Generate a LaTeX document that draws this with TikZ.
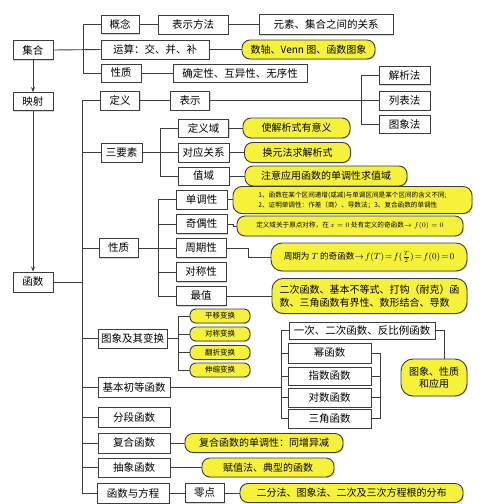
\documentclass[tikz,border=0pt]{standalone}
\usepackage{fontspec}
\setmainfont{Noto Sans CJK SC}
\usetikzlibrary{arrows.meta,shadows}
\definecolor{yel}{RGB}{246,242,58}
\definecolor{edge}{RGB}{60,60,60}
\newcommand{\fsz}[1]{\fontsize{#1}{#1}\selectfont}
\begin{document}
\begin{tikzpicture}[x=1pt,y=-1pt,
  box/.style={draw=edge, line width=0.9pt, fill=white, inner sep=0pt,
    font=\fsz{10.5}, drop shadow={shadow xshift=1pt, shadow yshift=-1pt, fill=black!25, opacity=0.6}},
  ybox/.style={draw=edge, line width=0.9pt, fill=yel, rounded corners=8pt, inner sep=0pt,
    font=\fsz{10}, drop shadow={shadow xshift=1pt, shadow yshift=-1pt, fill=black!25, opacity=0.6}},
  wh/.style 2 args={minimum width=#1, minimum height=#2},
  ln/.style={draw=edge, line width=0.9pt},
  arr/.style={ln, -{Stealth[length=5pt,width=4pt]}}
]
\useasboundingbox (0,0) rectangle (500,504);
\fill[white] (0,0) rectangle (500,504);

% left column
\node[box, wh={40}{19}] (set) at (33,50) {集合};
\node[box, wh={40}{18}] (ys) at (33,101.5) {映射};
\node[box, wh={40}{20}] (fn) at (33,282) {函数};

% set branch
\node[box, wh={38}{18}] (gn) at (120,24.5) {概念};
\node[box, wh={70}{19}] (bsff) at (193,24.5) {表示方法};
\node[box, wh={134}{20}] (ysgx) at (326,24.5) {元素、集合之间的关系};
\node[box, wh={108}{19}] (ysu) at (155,49.5) {运算：交、并、补};
\node[ybox, wh={133}{19}] (ysy) at (308.5,49.5) {数轴、Venn 图、函数图象};
\node[box, wh={40}{18}] (xz1) at (121,73) {性质};
\node[box, wh={134}{18}] (qd) at (240,73) {确定性、互异性、无序性};

% function branch
\node[box, wh={39}{19}] (dy) at (120,100.5) {定义};
\node[box, wh={39}{19}] (bs) at (190,100.5) {表示};
\node[box, wh={51}{18}] (jx) at (404.5,75.5) {解析法};
\node[box, wh={51}{19}] (lb) at (404.5,100.5) {列表法};
\node[box, wh={51}{18}] (tx) at (404.5,124) {图象法};

\node[box, wh={41}{19}] (syz) at (121.5,152.5) {三要素};
\node[box, wh={50}{18}] (dyy) at (203.5,128) {定义域};
\node[box, wh={51}{19}] (dygx) at (203.5,152.5) {对应关系};
\node[box, wh={51}{18}] (zy) at (203.5,176) {值域};
\node[ybox, wh={107}{20}] (y1) at (296.5,128) {使解析式有意义};
\node[ybox, wh={106}{20}] (y2) at (297.5,152.5) {换元法求解析式};
\node[ybox, wh={162}{20}] (y3) at (326,176) {注意应用函数的单调性求值域};

\node[box, wh={39}{19}] (xz2) at (118.5,248) {性质};
\node[box, wh={51}{19}] (ddx) at (201.5,199.5) {单调性};
\node[box, wh={51}{19}] (jox) at (201.5,224) {奇偶性};
\node[box, wh={50}{19}] (zqx) at (201,248) {周期性};
\node[box, wh={50}{19}] (dcx) at (201,272) {对称性};
\node[box, wh={50}{19}] (zz) at (201,296) {最值};
\node[ybox, wh={239}{27}, rounded corners=9pt, align=left, font=\fsz{6.6}] (y4) at (352.5,200)
  {1、函数在某个区间递增(或减)与单调区间是某个区间的含义不同;\\[2.5pt]2、证明单调性：作差（商）、导数法；3、复合函数的单调性};
\node[ybox, wh={226}{20}, font=\fsz{6.6}] (y5) at (350,226)
  {定义域关于原点对称，在 $x=0$ 处有定义的奇函数$\to f(0)=0$};
\node[ybox, wh={196}{28}, rounded corners=11pt, font=\fsz{8.6}] (y6) at (369,257)
  {周期为 $T$ 的奇函数$\thickmuskip=2mu\to f(T)=f(\frac{T}{2})=f(0)=0$};
\node[ybox, wh={195}{35}, rounded corners=11pt, align=left] (y7) at (369.5,296)
  {二次函数、基本不等式、打钩（耐克）函\\[3pt]数、三角函数有界性、数形结合、导数};

\node[box, wh={69}{19}] (txbh) at (132.5,338.5) {图象及其变换};
\node[ybox, wh={60}{14}, rounded corners=6pt, font=\fsz{7.5}] (py) at (220,316) {平移变换};
\node[ybox, wh={60}{14}, rounded corners=6pt, font=\fsz{7.5}] (dcb) at (220,334) {对称变换};
\node[ybox, wh={60}{14}, rounded corners=6pt, font=\fsz{7.5}] (fz) at (220,352.5) {翻折变换};
\node[ybox, wh={60}{14}, rounded corners=6pt, font=\fsz{7.5}] (ss) at (220,370) {伸缩变换};

\node[box, wh={72}{20}] (jbcd) at (134,387) {基本初等函数};
\node[box, wh={146}{17}] (ycy) at (362,330.5) {一次、二次函数、反比例函数};
\node[box, wh={83}{20}] (mhs) at (329.5,353) {幂函数};
\node[box, wh={83}{18}] (zshs) at (329.5,376) {指数函数};
\node[box, wh={83}{19}] (dshs) at (329.5,397.5) {对数函数};
\node[box, wh={83}{19}] (sjhs) at (329.5,418.5) {三角函数};
\node[ybox, wh={66}{37}, rounded corners=12pt, align=center] (yxz) at (434,377.5) {图象、性质\\[2pt]和应用};

\node[box, wh={72}{20}] (fdhs) at (134,417) {分段函数};
\node[box, wh={72}{20}] (fhhs) at (134,443) {复合函数};
\node[ybox, wh={158}{19}] (y8) at (264,443) {复合函数的单调性：同增异减};
\node[box, wh={72}{19}] (cxhs) at (134,467.5) {抽象函数};
\node[ybox, wh={132}{19}] (y9) at (268,467.5) {赋值法、典型的函数};
\node[box, wh={72}{20}] (hsfc) at (133,493) {函数与方程};
\node[box, wh={39}{19}] (ld) at (204.5,493) {零点};
\node[ybox, wh={223}{19}] (y10) at (351.5,493) {二分法、图象法、二次及三次方程根的分布};

% coordinates for brackets
\coordinate (b1) at (83,0);
\coordinate (tr) at (82,0);

% left arrows
\draw[arr] (set) -- (ys);
\draw[arr] (ys) -- (fn);

% set bracket
\draw[ln] (set.east) -- (ysu.west);
\draw[ln] (gn.west) -| (b1 |- xz1.west) -- (xz1.west);
\draw[ln] (gn) -- (bsff);
\draw[ln] (bsff) -- (ysgx);
\draw[ln] (ysu) -- (ysy);
\draw[ln] (xz1) -- (qd);

% main trunk
\draw[ln] (tr |- dy.west) -- (tr |- hsfc.west);
\foreach \n in {dy,syz,xz2,txbh,jbcd,fdhs,fhhs,cxhs,hsfc}{
  \draw[ln] (\n.west) -- (tr |- \n.west);
}
\draw[ln] (fn.east) -- (tr |- fn.east);

% definition
\draw[ln] (dy) -- (bs);
\draw[ln] (bs) -- (lb);
\draw[ln] (jx.west) -- ++(-17,0) |- (tx.west);

% three elements
\draw[ln] (syz) -- (dygx);
\draw[ln] (dyy.west) -- ++(-18,0) |- (zy.west);
\draw[ln] (dyy) -- (y1);
\draw[ln] (dygx) -- (y2);
\draw[ln] (zy) -- (y3);

% properties
\draw[ln] (xz2) -- (zqx);
\draw[ln] (ddx.west) -- ++(-17,0) |- (zz.west);
\draw[ln] (dcx.west) -- ++(-17,0);
\draw[ln] (jox.west) -- ++(-17,0);
\draw[ln] (ddx.east) -- (ddx.east -| y4.west);
\draw[ln] (jox.east) -- ++(6,0) |- (y5.west);
\draw[ln] (zqx.east) -- ++(22,0) |- (y6.west);
\draw[ln] (zz.east) -- (zz.east -| y7.west);

% transforms
\draw[ln] (txbh.east) -- (txbh.east -| 179,0);
\draw[ln] (py.west) -- ++(-11,0) |- (ss.west);
\draw[ln] (dcb.west) -- ++(-11,0);
\draw[ln] (fz.west) -- ++(-11,0);

% elementary functions
\coordinate (b5) at (281,0);
\draw[ln] (jbcd.east) -- (b5 |- jbcd.east);
\draw[ln] (ycy.west) -| (b5 |- sjhs.west) -- (sjhs.west);
\foreach \n in {mhs,zshs,dshs}{ \draw[ln] (\n.west) -- (b5 |- \n.west); }
\draw[ln] (mhs.east) -- ++(9,0) |- (sjhs.east);
\draw[ln] (zshs.east) -- ++(9,0);
\draw[ln] (dshs.east) -- ++(9,0);
\draw[ln] (ycy.east) -| ([xshift=10pt]yxz.north);

% bottom
\draw[ln] (fhhs) -- (y8);
\draw[ln] (cxhs) -- (y9);
\draw[ln] (hsfc) -- (ld);
\draw[ln] (ld) -- (y10);
\end{tikzpicture}
\end{document}
